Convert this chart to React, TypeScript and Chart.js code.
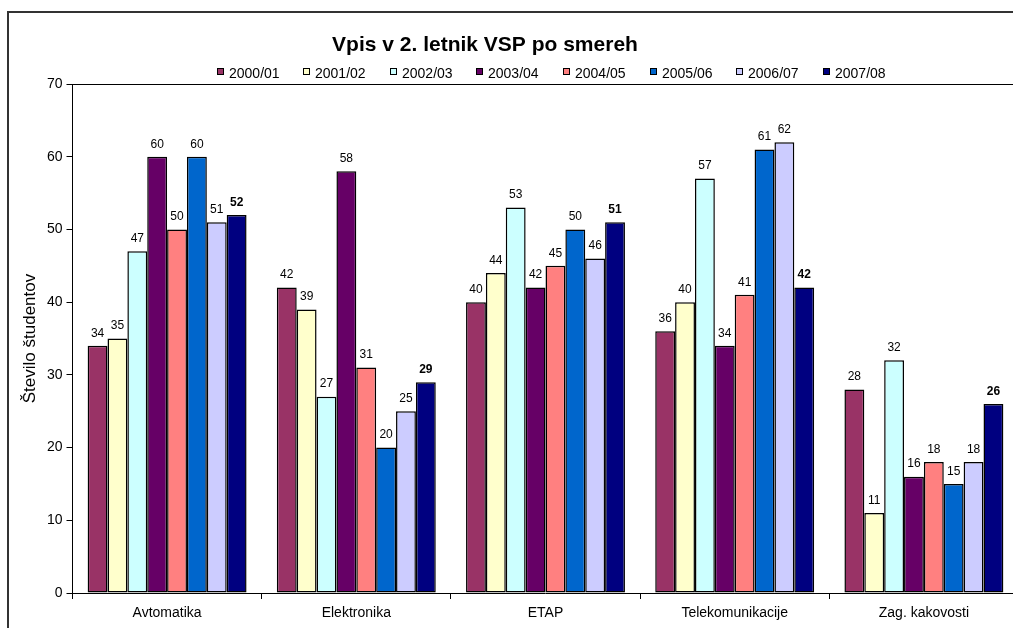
import React, { useEffect, useRef } from "react";
import { Chart, registerables } from "chart.js";

Chart.register(...registerables);

// ---------- data ----------
const categories = ["Avtomatika", "Elektronika", "ETAP", "Telekomunikacije", "Zag. kakovosti"];
const seriesLabels = ["2000/01", "2001/02", "2002/03", "2003/04", "2004/05", "2005/06", "2006/07", "2007/08"];
const y2000 = [34, 42, 40, 36, 28];
const y2001 = [35, 39, 44, 40, 11];
const y2002 = [47, 27, 53, 57, 32];
const y2003 = [60, 58, 42, 34, 16];
const y2004 = [50, 31, 45, 41, 18];
const y2005 = [60, 20, 50, 61, 15];
const y2006 = [51, 25, 46, 62, 18];
const y2007 = [52, 29, 51, 42, 26];
const seriesValues = [y2000, y2001, y2002, y2003, y2004, y2005, y2006, y2007];
const seriesColors = ["#993366", "#FFFFCC", "#CCFFFF", "#660066", "#FF8080", "#0066CC", "#CCCCFF", "#000080"];
const yMin = 0;
const yMax = 70;
const yStep = 10;
const chartTitle = "Vpis v 2. letnik VSP po smereh";
const yAxisTitle = "Število študentov";

const FONT = "'Liberation Sans', Arial, Helvetica, sans-serif";
const W = 1030;
const H = 640;

const headerPlugin = {
  id: "headerPlugin",
  afterDraw(chart: any) {
    const ctx = chart.ctx;
    ctx.save();
    // title
    ctx.fillStyle = "#000";
    ctx.font = `bold 21px ${FONT}`;
    ctx.textAlign = "center";
    ctx.textBaseline = "alphabetic";
    ctx.fillText(chartTitle, 485, 51);
    // legend
    ctx.font = `14px ${FONT}`;
    ctx.textAlign = "left";
    const box = 7;
    const gap = 5;
    const spacing = 24;
    const items = chart.data.datasets.map((ds: any) => ({
      label: ds.label,
      color: ds.backgroundColor,
      w: ctx.measureText(ds.label).width,
    }));
    const total =
      items.reduce((a: number, it: any) => a + box + gap + it.w, 0) + spacing * (items.length - 1);
    let x = 551 - total / 2;
    items.forEach((it: any) => {
      const xi = Math.round(x);
      ctx.fillStyle = it.color;
      ctx.fillRect(xi, 68, box, box);
      ctx.strokeStyle = "#000";
      ctx.lineWidth = 1;
      ctx.strokeRect(xi + 0.5, 68.5, box - 1, box - 1);
      ctx.fillStyle = "#000";
      ctx.fillText(it.label, xi + box + gap, 78);
      x += box + gap + it.w + spacing;
    });
    // plot area top border
    const a = chart.chartArea;
    ctx.strokeStyle = "#000";
    ctx.lineWidth = 1;
    ctx.beginPath();
    ctx.moveTo(Math.round(a.left), Math.round(a.top) + 0.5);
    ctx.lineTo(Math.round(a.right), Math.round(a.top) + 0.5);
    ctx.stroke();
    ctx.restore();
  },
};

const valueLabelPlugin = {
  id: "valueLabelPlugin",
  afterDatasetsDraw(chart: any) {
    const ctx = chart.ctx;
    ctx.save();
    ctx.textAlign = "center";
    ctx.textBaseline = "middle";
    ctx.fillStyle = "#000";
    const n = chart.data.datasets.length;
    chart.data.datasets.forEach((ds: any, i: number) => {
      const meta = chart.getDatasetMeta(i);
      ctx.font = i === n - 1 ? `bold 12px ${FONT}` : `12px ${FONT}`;
      meta.data.forEach((el: any, j: number) => {
        ctx.fillText(String(ds.data[j]), el.x, el.y - 12.5);
      });
    });
    ctx.restore();
  },
};

export default function App() {
  const canvasRef = useRef<HTMLCanvasElement | null>(null);

  useEffect(() => {
    if (!canvasRef.current) return;
    const chart = new Chart(canvasRef.current, {
      type: "bar",
      data: {
        labels: categories,
        datasets: seriesLabels.map((label, i) => ({
          label,
          data: seriesValues[i],
          backgroundColor: seriesColors[i],
          borderColor: "#000",
          borderWidth: 1.5,
          borderSkipped: false,
          categoryPercentage: 0.84,
          barPercentage: 1,
        })),
      },
      options: {
        responsive: false,
        animation: false,
        events: [],
        layout: { padding: { top: 84, left: 0.5, right: W - 1018.5, bottom: 0 } },
        plugins: {
          legend: { display: false },
          title: { display: false },
          tooltip: { enabled: false },
        },
        scales: {
          x: {
            offset: true,
            grid: {
              offset: true,
              drawOnChartArea: false,
              drawTicks: true,
              tickLength: 6,
              color: "#000",
            },
            border: { display: true, color: "#000", width: 1 },
            ticks: {
              color: "#000",
              font: { family: FONT, size: 14 },
              padding: 6,
              maxRotation: 0,
              autoSkip: false,
            },
            afterFit: (s: any) => {
              s.height = 47;
            },
          },
          y: {
            min: yMin,
            max: yMax,
            ticks: {
              stepSize: yStep,
              color: "#000",
              font: { family: FONT, size: 14 },
              padding: 4,
            },
            grid: { drawOnChartArea: false, drawTicks: true, tickLength: 6, color: "#000" },
            border: { display: true, color: "#000", width: 1 },
            title: {
              display: true,
              text: yAxisTitle,
              color: "#000",
              font: { family: FONT, size: 17 },
              padding: { top: 19.8, bottom: 0 },
            },
            afterFit: (s: any) => {
              s.width = 72;
            },
          },
        },
      },
      plugins: [valueLabelPlugin, headerPlugin],
    } as any);
    return () => chart.destroy();
  }, []);

  return (
    <div
      style={{
        position: "fixed",
        left: 0,
        top: 0,
        width: 1013,
        height: 628,
        overflow: "hidden",
        background: "#fff",
      }}
    >
      <canvas
        ref={canvasRef}
        width={W}
        height={H}
        style={{ position: "absolute", left: 0, top: 0, width: W, height: H, display: "block" }}
      />
      <div
        style={{
          position: "absolute",
          left: 7,
          top: 11,
          width: 1100,
          height: 700,
          borderTop: "2px solid #333",
          borderLeft: "2px solid #333",
          boxSizing: "border-box",
          pointerEvents: "none",
        }}
      />
    </div>
  );
}
